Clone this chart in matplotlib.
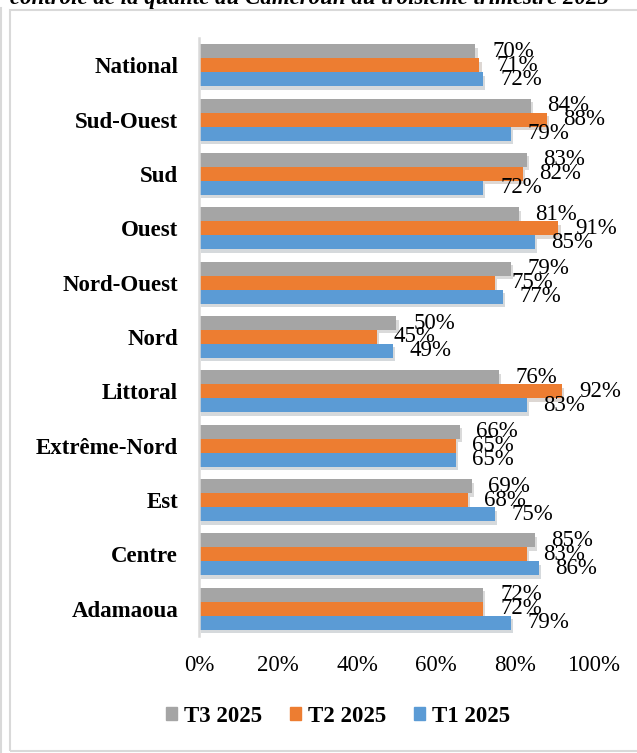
import numpy as np
import matplotlib.pyplot as plt
from matplotlib import patheffects as pe
from matplotlib.patches import Rectangle
from matplotlib.lines import Line2D

# données (en %), de haut en bas
regions = ["National", "Sud-Ouest", "Sud", "Ouest", "Nord-Ouest", "Nord",
           "Littoral", "Extrême-Nord", "Est", "Centre", "Adamaoua"]
t3 = [70, 84, 83, 81, 79, 50, 76, 66, 69, 85, 72]
t2 = [71, 88, 82, 91, 75, 45, 92, 65, 68, 83, 72]
t1 = [72, 79, 72, 85, 77, 49, 83, 65, 75, 86, 79]
series = ["T3 2025", "T2 2025", "T1 2025"]
colors = ["#A5A5A5", "#ED7D31", "#5B9BD5"]
xticks = [0, 20, 40, 60, 80, 100]

plt.rcParams['font.family'] = ['Liberation Serif', 'DejaVu Serif']

fig = plt.figure(figsize=(6.37, 7.53), dpi=100)
W, H = 637, 753
ax = fig.add_axes([199 / W, 1 - 636 / H, 395 / W, 598 / H])

y = np.arange(len(regions))
h = 0.257
shadow = [pe.SimplePatchShadow(offset=(1.5, -2.5), alpha=0.18), pe.Normal()]
for k, (vals, col, name) in enumerate(zip([t3, t2, t1], colors, series)):
    pos = y + (k - 1) * h
    ax.barh(pos, vals, height=h, color=col, label=name, path_effects=shadow)
    for p, v in zip(pos, vals):
        ax.annotate(f"{v}%", (v, p), xytext=(12, 0), textcoords="offset points",
                    va="center", ha="left", fontsize=16.5)

ax.set_xlim(0, 100)
ax.set_ylim(len(regions) - 0.5, -0.5)
ax.set_xticks(xticks, [f"{t}%" for t in xticks], fontsize=16.5)
ax.set_yticks(y, regions, fontsize=16.5, fontweight="bold")
ax.tick_params(axis="x", length=0, pad=14)
ax.tick_params(axis="y", length=0, pad=15)
for s in ["top", "right", "bottom"]:
    ax.spines[s].set_visible(False)
ax.spines["left"].set_color("#D9D9D9")
ax.spines["left"].set_linewidth(1.8)

handles = [plt.Rectangle((0, 0), 1, 1, color=c) for c in colors]
fig.legend(handles, series, loc="center", bbox_to_anchor=(338 / W, 1 - 716 / H),
           ncol=3, frameon=False, prop={"weight": "bold", "size": 16.5},
           handlelength=0.5, handleheight=0.5, columnspacing=1.2, handletextpad=0.3)

# cadre du graphique
fig.patches.append(Rectangle((10 / W, 2 / H), 1.0, (751 - 10) / H, transform=fig.transFigure,
                             fill=False, ec="#D9D9D9", lw=1.5))
fig.lines.append(Line2D([1 / W, 1 / W], [0, 1 - 8 / H], transform=fig.transFigure,
                        color="#D9D9D9", lw=1.5))

# titre (coupé en haut)
fig.text(10 / W, 1 - 4 / H, "contrôle de la qualité du Cameroun au troisième trimestre 2025",
         fontsize=16.5, fontweight="bold", style="italic", va="baseline")

fig.savefig("out.png", dpi=100)
